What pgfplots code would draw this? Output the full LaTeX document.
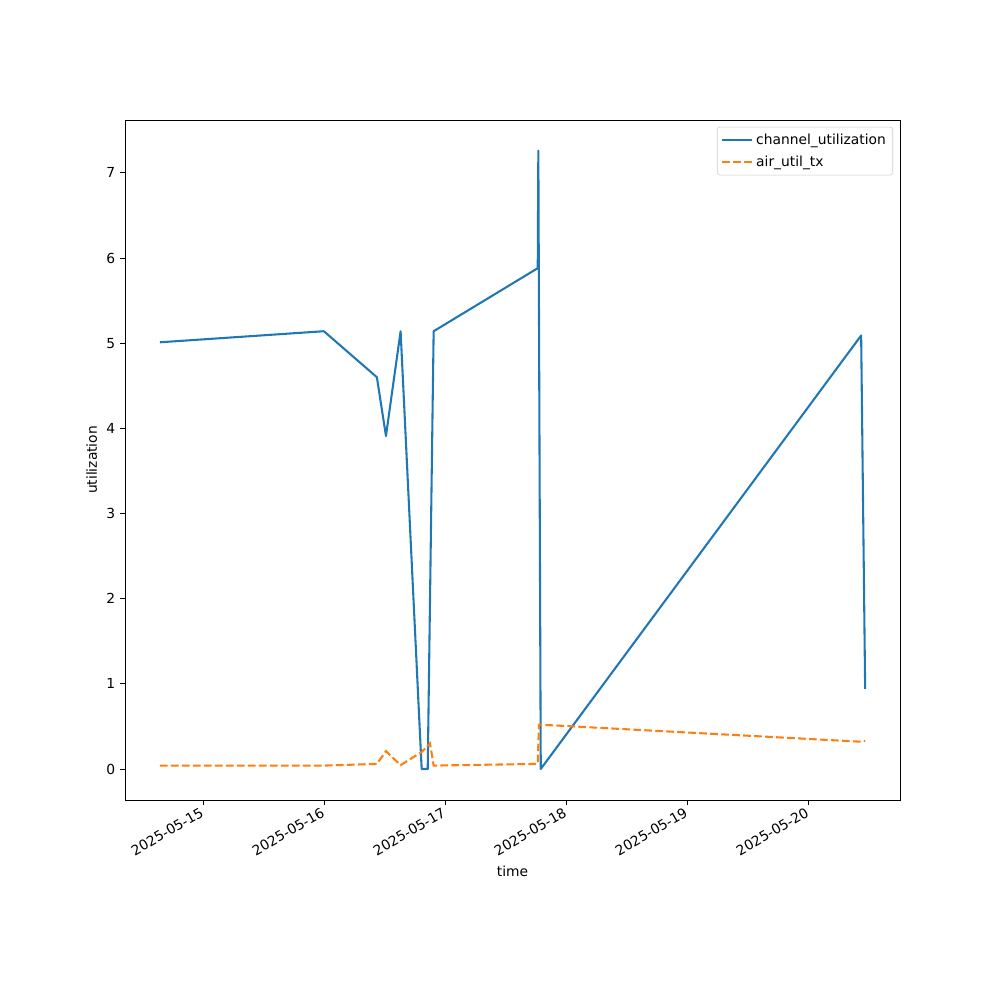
\documentclass[border=0pt]{standalone}
\usepackage{pgfplots}
\pgfplotsset{compat=1.18}
\usepackage{fontspec}
\setmainfont{DejaVu Sans}
\definecolor{c0}{HTML}{1F77B4}
\definecolor{c1}{HTML}{FF7F0E}
\begin{document}
\begin{tikzpicture}
\path (-1.25in,-2in) rectangle (8.75in,8in);
\begin{axis}[
    at={(0,0)}, anchor=south west,
    scale only axis,
    width=7.75in, height=6.8in,
    xmin=-0.646, xmax=5.757,
    ymin=-0.364, ymax=7.62,
    xtick={0,1,2,3,4,5},
    xticklabels={2025-05-15,2025-05-16,2025-05-17,2025-05-18,2025-05-19,2025-05-20},
    x tick label style={xshift=-2pt, yshift=1.5pt, rotate=30, anchor=north east, inner sep=2pt},
    ytick={0,1,2,3,4,5,6,7},
    tick align=outside,
    tick pos=left,
    major tick length=3.5pt,
    tick style={black, line width=0.6pt},
    axis line style={line width=0.6pt},
    /pgf/number format/assume math mode=true,
    ticklabel style={font=\fontsize{10}{12}\selectfont},
    label style={font=\fontsize{10}{12}\selectfont},
    xlabel={time},
    xlabel style={yshift=-1pt},
    ylabel={utilization},
    legend style={at={(0.991,0.99)}, anchor=north east, draw=black!20,
        rounded corners=2pt, font=\fontsize{10}{12}\selectfont,
        row sep=2.5pt, inner sep=3pt},
    legend cell align=left,
    legend image code/.code={\draw[#1] (0cm,0cm) -- (0.76cm,0cm);},
]
\addplot[c0, line width=1.5pt, line join=round] coordinates {
  (-0.358,5.01) (0.997,5.14) (1.435,4.60) (1.510,3.91) (1.631,5.14)
  (1.805,0.00) (1.855,0.00) (1.904,5.14) (2.764,5.88) (2.769,7.26)
  (2.789,0.00) (5.436,5.09) (5.469,0.94)
};
\addlegendentry{channel\_utilization}
\addplot[c1, line width=1.5pt, dash pattern=on 5.55pt off 2.4pt] coordinates {
  (-0.358,0.04) (0.997,0.04) (1.435,0.06) (1.510,0.21) (1.631,0.045)
  (1.805,0.20) (1.874,0.30) (1.904,0.04) (2.764,0.06) (2.774,0.52)
  (2.791,0.52) (5.436,0.32) (5.469,0.33)
};
\addlegendentry{air\_util\_tx}
\end{axis}
\end{tikzpicture}
\end{document}
